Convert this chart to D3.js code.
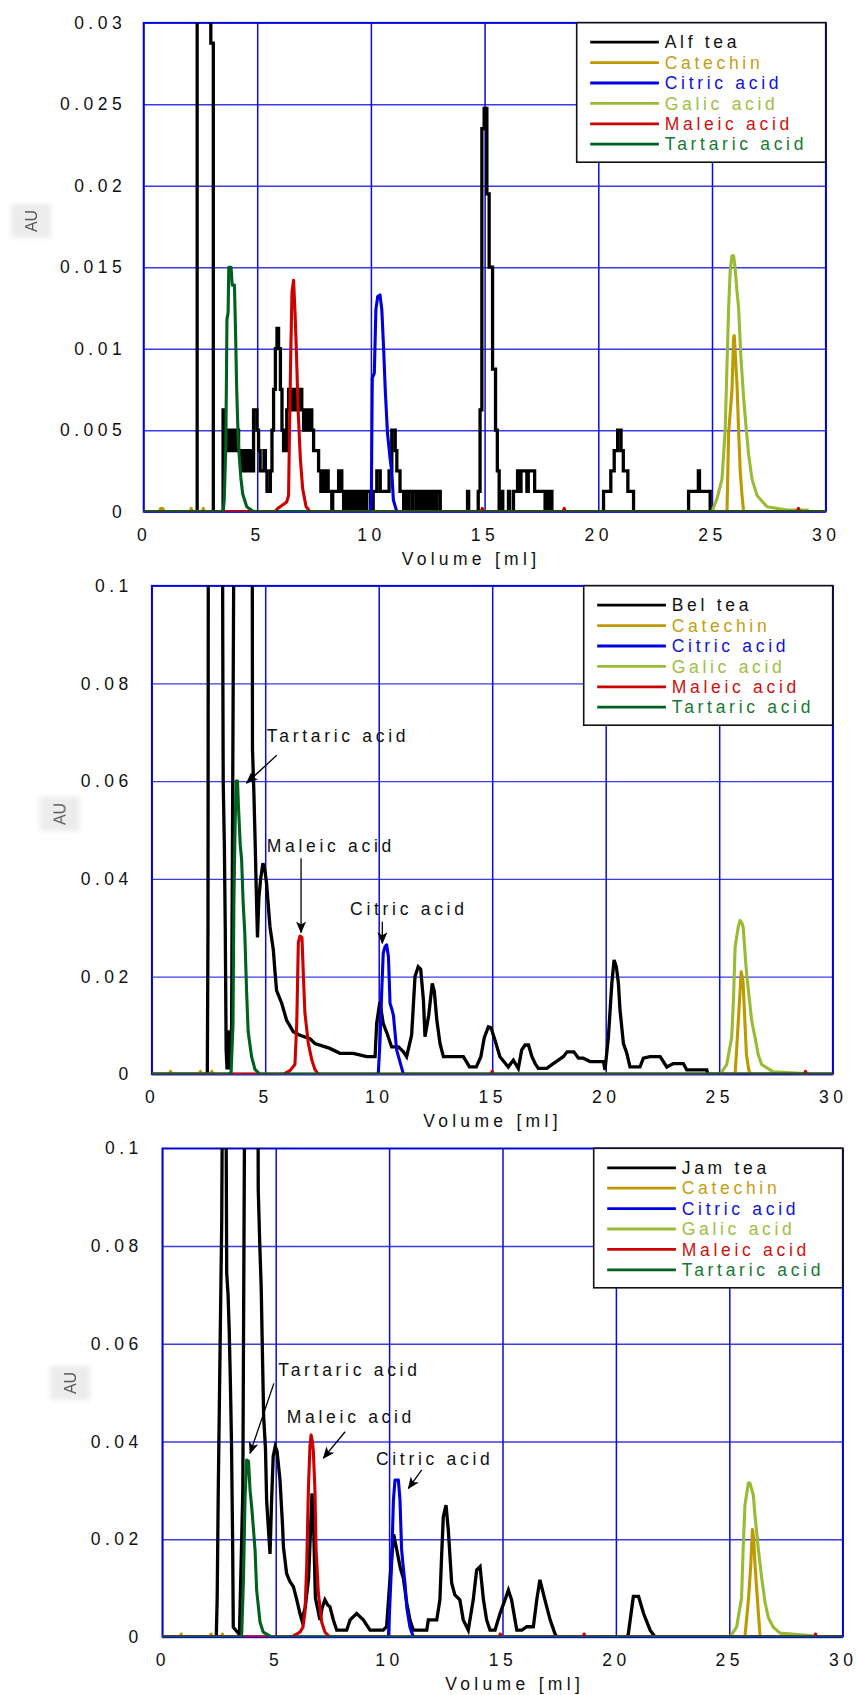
<!DOCTYPE html>
<html>
<head>
<meta charset="utf-8">
<script src="https://cdn.jsdelivr.net/npm/d3@7"></script>
<style>
  body { margin: 0; background: #fff; }
  svg text { font-family: "Liberation Sans", Arial, sans-serif; }
</style>
</head>
<body>
<svg id="chart" width="856" height="1695"></svg>
<script>
// ---------- shared axis values ----------
const volumeTicks = [0, 5, 10, 15, 20, 25, 30];
const auTicksAlf = [0, 0.005, 0.01, 0.015, 0.02, 0.025, 0.03];
const auTicksBel = [0, 0.02, 0.04, 0.06, 0.08, 0.1];
const auTicksJam = [0, 0.02, 0.04, 0.06, 0.08, 0.1];
const standardNames = ["Catechin", "Citric acid", "Galic acid", "Maleic acid", "Tartaric acid"];
const teaNames = ["Alf tea", "Bel tea", "Jam tea"];

// ---------- Alf tea run: [volume ml, AU] ----------
const alfTea = [[0,0],[2.36,0.05],[2.96,0.02875],[3.07,0],[3.5,0.00625],[3.58,0.005],[3.64,0.00375],[3.7,0.005],[3.76,0.00375],[3.82,0.005],[3.9,0.00375],[3.96,0.005],[4.04,0.00375],[4.1,0.005],[4.18,0.00375],[4.3,0.0025],[4.4,0.00375],[4.5,0.0025],[4.6,0.00375],[4.7,0.0025],[4.84,0.00625],[4.99,0.005],[5.06,0.00375],[5.13,0.0025],[5.3,0.00375],[5.36,0.0025],[5.43,0.00125],[5.58,0.0025],[5.65,0.005],[5.72,0.0075],[5.8,0.01],[5.87,0.01125],[5.94,0.01],[6.02,0.0075],[6.09,0.005],[6.16,0.00375],[6.3,0.00625],[6.38,0.0075],[6.45,0.00625],[6.52,0.0075],[6.6,0.00625],[6.68,0.0075],[6.8,0.00625],[6.88,0.0075],[6.96,0.00625],[7.04,0.005],[7.12,0.00625],[7.2,0.005],[7.3,0.00625],[7.4,0.005],[7.48,0.00375],[7.7,0.0025],[7.8,0.00125],[7.88,0.0025],[7.96,0.00125],[8.04,0.0025],[8.12,0.00125],[8.28,0],[8.32,0.00125],[8.58,0.0025],[8.72,0.00125],[8.8,0],[8.86,0.00125],[9.0,0],[9.05,0.00125],[9.15,0],[9.2,0.00125],[9.3,0],[9.35,0.00125],[9.45,0],[9.5,0.00125],[9.6,0],[9.65,0.00125],[9.75,0],[9.8,0.00125],[9.97,0],[10.1,0.00125],[10.26,0.0025],[10.41,0.00125],[10.8,0.0025],[10.92,0.005],[11.07,0.00375],[11.14,0.0025],[11.28,0.00125],[11.44,0],[11.5,0.00125],[11.6,0],[11.65,0.00125],[11.8,0],[11.85,0.00125],[12.0,0],[12.1,0.00125],[12.2,0],[12.3,0.00125],[12.4,0],[12.5,0.00125],[12.6,0],[12.7,0.00125],[12.8,0],[12.9,0.00125],[13.05,0],[14.25,0.00125],[14.3,0],[14.72,0.00125],[14.8,0.00625],[14.88,0.0235],[14.98,0.02475],[15.1,0.0195],[15.2,0.015],[15.35,0.00875],[15.48,0.005],[15.56,0.0025],[15.64,0],[15.76,0.00125],[15.8,0],[16.05,0.00125],[16.1,0],[16.27,0.00125],[16.45,0.0025],[16.55,0.00125],[16.6,0.0025],[16.86,0.00125],[16.92,0.0025],[17.2,0.00125],[17.66,0],[17.7,0.00125],[17.8,0],[17.85,0.00125],[17.96,0],[20.23,0.00125],[20.55,0.0025],[20.7,0.00375],[20.85,0.005],[21.0,0.00375],[21.1,0.0025],[21.3,0.00125],[21.55,0],[23.97,0.00125],[24.4,0.0025],[24.45,0.00125],[24.92,0],[30,0]];
const alfCatechin = [[0,0],[0.7,0],[0.75,0.0002],[0.85,0.0002],[0.9,0],[2.05,0],[2.1,0.0002],[2.15,0],[2.58,0],[2.63,0.0002],[2.68,0],[25.66,0],[25.73,0.0048],[25.88,0.0075],[25.95,0.0107],[25.98,0.0108],[26.05,0.009],[26.1,0.0078],[26.17,0.005],[26.24,0.0025],[26.32,0.001],[26.39,0],[30,0]];
const alfCitric = [[0,0],[9.97,0],[10.02,0.0008],[10.06,0.0082],[10.15,0.0085],[10.22,0.0124],[10.3,0.0132],[10.4,0.0133],[10.48,0.0124],[10.56,0.01],[10.63,0.0075],[10.73,0.0048],[10.85,0.0032],[10.92,0.0024],[10.99,0.0007],[11.14,0],[30,0]];
const alfGalic = [[0,0],[25.0,0],[25.22,0.0008],[25.44,0.002],[25.58,0.005],[25.66,0.009],[25.73,0.0125],[25.8,0.0148],[25.88,0.0157],[25.95,0.0157],[26.02,0.0149],[26.1,0.0135],[26.17,0.0125],[26.27,0.0095],[26.39,0.007],[26.51,0.005],[26.61,0.0035],[26.76,0.002],[26.98,0.001],[27.42,0.0003],[28.3,0.0001],[29.25,0.0001]];
const alfMaleic = [[0,0],[5.79,0],[5.9,0.0002],[6.1,0.0004],[6.3,0.0006],[6.38,0.001],[6.42,0.005],[6.48,0.01],[6.53,0.0135],[6.6,0.0142],[6.67,0.012],[6.72,0.01],[6.8,0.0062],[6.9,0.0032],[7.0,0.0014],[7.15,0.0003],[7.33,0],[14.85,0],[14.9,0.0002],[14.95,0],[18.45,0],[18.5,0.0002],[18.55,0],[28.75,0],[28.8,0.0002],[28.85,0],[30,0]];
const alfTartaric = [[0,0],[3.5,0],[3.55,0.0007],[3.62,0.004],[3.67,0.0118],[3.72,0.0122],[3.75,0.015],[3.85,0.015],[3.9,0.0139],[4.0,0.0139],[4.05,0.0109],[4.1,0.0074],[4.17,0.0042],[4.28,0.0021],[4.36,0.0011],[4.54,0.0003],[4.84,0],[30,0]];

// ---------- Bel tea run ----------
const belTea = [[0,0],[2.45,0],[2.48,0.03],[2.5,0.15],[3.1,0.15],[3.13,0.09],[3.15,0.06],[3.2,0.047],[3.24,0.03],[3.28,0.005],[3.32,0.001],[3.36,0.009],[3.4,0.002],[3.45,0.001],[3.52,0.01],[3.56,0.05],[3.6,0.09],[3.66,0.15],[4.42,0.15],[4.44,0.0665],[4.5,0.0578],[4.56,0.047],[4.62,0.035],[4.66,0.028],[4.72,0.036],[4.8,0.04],[4.9,0.0432],[4.98,0.042],[5.06,0.0391],[5.21,0.0302],[5.36,0.0254],[5.43,0.021],[5.5,0.0172],[5.73,0.0145],[5.94,0.0111],[6.24,0.0087],[6.53,0.008],[6.97,0.0073],[7.19,0.0063],[7.85,0.0053],[8.29,0.0043],[8.88,0.0043],[9.47,0.0036],[9.84,0.0036],[9.91,0.0104],[10.05,0.0148],[10.2,0.0104],[10.35,0.0086],[10.57,0.0056],[10.87,0.0056],[11.09,0.0046],[11.23,0.0036],[11.45,0.008],[11.6,0.02],[11.74,0.022],[11.85,0.0215],[11.97,0.0152],[12.04,0.0077],[12.2,0.012],[12.36,0.0186],[12.45,0.017],[12.56,0.0111],[12.7,0.0063],[12.85,0.0036],[13.3,0.0036],[13.73,0.0036],[14.0,0.0015],[14.3,0.0015],[14.5,0.0036],[14.65,0.0075],[14.83,0.0097],[14.95,0.0095],[15.12,0.007],[15.34,0.0036],[15.71,0.0015],[15.93,0.0029],[16.15,0.0012],[16.3,0.005],[16.45,0.006],[16.6,0.006],[16.75,0.0036],[16.89,0.0022],[17.03,0.0012],[17.4,0.0012],[17.69,0.0022],[18.13,0.0036],[18.3,0.0046],[18.6,0.0046],[18.8,0.0033],[19.01,0.0033],[19.31,0.0026],[19.9,0.0026],[19.97,0.0009],[20.12,0.0077],[20.27,0.0186],[20.37,0.0234],[20.47,0.022],[20.56,0.0186],[20.63,0.0132],[20.78,0.0063],[20.93,0.0043],[21.07,0.0015],[21.51,0.0015],[21.66,0.0033],[21.95,0.0036],[22.4,0.0036],[22.69,0.0015],[22.98,0.0022],[23.42,0.0022],[23.57,0.0009],[24.45,0.0009],[24.5,0],[30,0]];
const belCatechin = [[0,0],[0.78,0],[0.83,0.0006],[0.88,0],[2.1,0],[2.15,0.0006],[2.2,0],[2.6,0],[2.65,0.0006],[2.7,0],[25.7,0],[25.78,0.006],[25.88,0.014],[25.97,0.021],[26.05,0.019],[26.12,0.012],[26.2,0.004],[26.3,0.001],[26.38,0],[30,0]];
const belCitric = [[0,0],[9.98,0],[10.06,0.007],[10.13,0.0166],[10.2,0.0248],[10.28,0.0261],[10.35,0.0265],[10.43,0.024],[10.5,0.0145],[10.6,0.013],[10.65,0.012],[10.79,0.005],[10.94,0.0025],[11.09,0],[30,0]];
const belGalic = [[0,0],[25.04,0],[25.33,0.002],[25.55,0.0075],[25.63,0.0155],[25.7,0.026],[25.84,0.0302],[25.92,0.0315],[26.0,0.031],[26.06,0.03],[26.15,0.024],[26.21,0.0205],[26.28,0.0175],[26.43,0.011],[26.58,0.0075],[26.72,0.004],[26.87,0.002],[27.38,0.0005],[28.56,0.0002],[28.9,0]];
const belMaleic = [[0,0],[5.8,0],[6.1,0.0008],[6.31,0.002],[6.39,0.0104],[6.46,0.027],[6.53,0.0283],[6.62,0.028],[6.68,0.0204],[6.75,0.0125],[6.9,0.0063],[7.05,0.003],[7.19,0.001],[7.34,0],[14.95,0],[15.0,0.0006],[15.05,0],[28.75,0],[28.8,0.0006],[28.85,0],[30,0]];
const belTartaric = [[0,0],[3.4,0],[3.5,0.0005],[3.58,0.01],[3.62,0.035],[3.67,0.05],[3.72,0.06],[3.78,0.06],[3.82,0.055],[3.9,0.047],[3.96,0.044],[4.03,0.035],[4.1,0.029],[4.18,0.017],[4.25,0.0087],[4.4,0.0036],[4.55,0.001],[4.77,0],[30,0]];

// ---------- Jam tea run ----------
const jamTea = [[0,0],[2.38,0],[2.42,0.008],[2.47,0.031],[2.55,0.06],[2.62,0.085],[2.66,0.12],[2.8,0.12],[2.84,0.0744],[2.9,0.07],[2.95,0.0628],[3.0,0.0526],[3.05,0.04],[3.1,0.02],[3.13,0.002],[3.4,0.0005],[3.5,0.02],[3.55,0.03],[3.62,0.1],[3.66,0.15],[4.2,0.15],[4.23,0.0915],[4.3,0.08],[4.36,0.0717],[4.42,0.0567],[4.47,0.045],[4.55,0.0385],[4.6,0.028],[4.68,0.022],[4.75,0.017],[4.82,0.028],[4.89,0.037],[4.98,0.039],[5.06,0.038],[5.19,0.0321],[5.3,0.023],[5.34,0.0185],[5.48,0.013],[5.63,0.0113],[5.78,0.0103],[5.93,0.0076],[6.07,0.0048],[6.15,0.0035],[6.3,0.006],[6.45,0.012],[6.6,0.0294],[6.66,0.025],[6.75,0.008],[6.95,0.0035],[7.05,0.006],[7.17,0.0076],[7.3,0.0065],[7.39,0.0062],[7.54,0.0035],[7.69,0.0014],[8.13,0.0014],[8.28,0.0035],[8.57,0.0048],[8.86,0.0035],[9.16,0.0014],[9.74,0.0014],[9.89,0.0021],[10.04,0.012],[10.2,0.021],[10.33,0.018],[10.5,0.014],[10.63,0.012],[10.78,0.0069],[10.92,0.0035],[11.07,0.0014],[11.66,0.0014],[11.73,0.0035],[12.1,0.0035],[12.24,0.0076],[12.32,0.0171],[12.39,0.0246],[12.51,0.027],[12.61,0.0219],[12.76,0.011],[12.9,0.0086],[13.12,0.0076],[13.27,0.0035],[13.49,0.0014],[13.71,0.0076],[13.86,0.0137],[14.01,0.0144],[14.16,0.0076],[14.3,0.0035],[14.45,0.0014],[14.67,0.0014],[14.89,0.0048],[15.11,0.0076],[15.26,0.0096],[15.4,0.0076],[15.63,0.0014],[15.85,0.0014],[16.07,0.0021],[16.36,0.0021],[16.51,0.0076],[16.65,0.0117],[16.87,0.0076],[17.1,0.0035],[17.31,0.0007],[17.39,0],[20.5,0],[20.55,0.0007],[20.77,0.0083],[21.0,0.0083],[21.22,0.0048],[21.51,0.0014],[21.73,0],[30,0]];
const jamCatechin = [[0,0],[0.78,0],[0.83,0.0006],[0.88,0],[2.1,0],[2.15,0.0006],[2.2,0],[2.6,0],[2.65,0.0006],[2.7,0],[25.69,0],[25.85,0.008],[25.95,0.015],[26.02,0.022],[26.08,0.02],[26.13,0.015],[26.28,0.005],[26.36,0],[30,0]];
const jamCitric = [[0,0],[9.97,0],[10.11,0.015],[10.19,0.028],[10.26,0.0321],[10.41,0.0321],[10.48,0.028],[10.55,0.018],[10.63,0.014],[10.7,0.011],[10.78,0.006],[10.92,0.002],[11.07,0],[30,0]];
const jamGalic = [[0,0],[25.03,0],[25.32,0.002],[25.54,0.008],[25.61,0.018],[25.69,0.027],[25.84,0.0315],[25.91,0.0315],[26.06,0.029],[26.13,0.025],[26.28,0.018],[26.43,0.012],[26.58,0.007],[26.72,0.004],[26.94,0.002],[27.24,0.0008],[28.56,0.0003],[28.9,0]];
const jamMaleic = [[0,0],[5.7,0],[6.07,0.001],[6.2,0.002],[6.29,0.005],[6.37,0.015],[6.44,0.03],[6.51,0.039],[6.56,0.0413],[6.62,0.04],[6.66,0.038],[6.73,0.03],[6.78,0.018],[6.88,0.009],[7.03,0.003],[7.17,0.001],[7.39,0],[14.85,0],[14.9,0.0006],[14.95,0],[18.55,0],[18.6,0.0006],[18.65,0],[28.75,0],[28.8,0.0006],[28.85,0],[30,0]];
const jamTartaric = [[0,0],[3.45,0],[3.5,0.0005],[3.58,0.012],[3.65,0.0287],[3.72,0.0362],[3.8,0.036],[3.87,0.03],[3.94,0.0267],[4.02,0.022],[4.09,0.0178],[4.16,0.0096],[4.31,0.003],[4.45,0.001],[4.82,0],[30,0]];

// ---------- styling ----------
const teaColor = "#000000";
const standardColors = ["#bf9900", "#0000dd", "#99bb33", "#cc0000", "#00601e"];
const standardTextColors = ["#c49e10", "#1010e0", "#9cc040", "#d01010", "#157a30"];
const labelFont = 17.5;
const tickSpacing = 4.5;
const legendSpacing = 3.7;

// panel layout (pixel frames) and labelled peaks (in data units)
const panels = [
  { name: teaNames[0], tea: alfTea, step: true,
    standards: [alfCatechin, alfCitric, alfGalic, alfMaleic, alfTartaric],
    ticks: auTicksAlf, yMax: 0.03,
    left: 143.5, right: 825.7, top: 22.7, bottom: 511.7,
    tickPad: 17.3, xLabelX: 471, au: [31, 221], notes: [] },
  { name: teaNames[1], tea: belTea, step: false,
    standards: [belCatechin, belCitric, belGalic, belMaleic, belTartaric],
    ticks: auTicksBel, yMax: 0.1,
    left: 151.7, right: 832.7, top: 585.7, bottom: 1074.3,
    tickPad: 18.9, xLabelX: 492.5, au: [59.5, 814],
    notes: [
      { text: "Tartaric acid", at: [5.07, 0.0693], from: [5.51, 0.0653], to: [4.18, 0.0596] },
      { text: "Maleic acid",   at: [5.07, 0.0468], from: [6.58, 0.0442], to: [6.58, 0.0290] },
      { text: "Citric acid",   at: [8.74, 0.0338], from: [10.16, 0.0312], to: [10.16, 0.0268] }
    ] },
  { name: teaNames[2], tea: jamTea, step: false,
    standards: [jamCatechin, jamCitric, jamGalic, jamMaleic, jamTartaric],
    ticks: auTicksJam, yMax: 0.1,
    left: 162.3, right: 842.7, top: 1148.3, bottom: 1637,
    tickPad: 19.5, xLabelX: 514.7, au: [70, 1383],
    notes: [
      { text: "Tartaric acid", at: [5.11, 0.0546], from: [4.92, 0.0519], to: [3.87, 0.0376] },
      { text: "Maleic acid",   at: [5.49, 0.0451], from: [8.06, 0.0420], to: [7.10, 0.0366] },
      { text: "Citric acid",   at: [9.42, 0.0364], from: [11.44, 0.0342], to: [10.85, 0.0304] }
    ] }
];

const svg = d3.select("#chart");
const defs = svg.append("defs");
defs.append("marker")
  .attr("id", "arrowHead")
  .attr("viewBox", "0 0 12 10")
  .attr("refX", 11).attr("refY", 5)
  .attr("markerWidth", 12).attr("markerHeight", 10)
  .attr("markerUnits", "userSpaceOnUse")
  .attr("orient", "auto")
  .append("path")
  .attr("d", "M0,0 L12,5 L0,10 L3,5 Z")
  .attr("fill", "#000");
defs.append("filter").attr("id", "softText")
  .append("feGaussianBlur").attr("stdDeviation", 0.55);
defs.append("filter").attr("id", "softBox")
  .attr("x", "-30%").attr("y", "-30%").attr("width", "160%").attr("height", "160%")
  .append("feGaussianBlur").attr("stdDeviation", 2.5);

// draw order for the standards: galic under catechin, the rest on top
const drawOrder = [2, 0, 1, 3, 4];

panels.forEach((p, pi) => {
  const w = p.right - p.left, h = p.bottom - p.top;
  const x = d3.scaleLinear().domain([0, 30]).range([p.left, p.right]);
  const y = d3.scaleLinear().domain([0, p.yMax]).range([p.bottom, p.top]);
  const g = svg.append("g").attr("class", "panel");

  // horizontal grid + AU tick labels
  const yAxis = g.append("g")
    .attr("transform", `translate(${p.left},0)`)
    .call(d3.axisLeft(y).tickValues(p.ticks).tickSize(-w).tickPadding(p.tickPad)
      .tickFormat(d => d === 0 ? "0" : String(d)));
  yAxis.select(".domain").remove();
  yAxis.selectAll(".tick line").attr("stroke", "#3a3ae6").attr("stroke-width", 1.4);
  yAxis.selectAll(".tick text")
    .attr("fill", "#111").style("font-size", labelFont + "px")
    .style("letter-spacing", tickSpacing + "px");

  // vertical grid + volume tick labels
  const xAxis = g.append("g")
    .attr("transform", `translate(0,${p.bottom})`)
    .call(d3.axisBottom(x).tickValues(volumeTicks).tickSize(-h).tickPadding(0));
  xAxis.select(".domain").remove();
  xAxis.selectAll(".tick line").attr("stroke", "#0a0adc").attr("stroke-width", 1.5);
  xAxis.selectAll(".tick text")
    .attr("y", 23).attr("dy", "0.35em")
    .attr("fill", "#111").style("font-size", labelFont + "px")
    .style("letter-spacing", tickSpacing + "px");

  // plot frame
  g.append("rect")
    .attr("x", p.left).attr("y", p.top).attr("width", w).attr("height", h)
    .attr("fill", "none").attr("stroke", "#0000dd").attr("stroke-width", 1.6);

  // axis titles
  g.append("text")
    .attr("x", p.xLabelX).attr("y", p.bottom + 47).attr("dy", "0.35em")
    .attr("text-anchor", "middle").attr("fill", "#111")
    .style("font-size", labelFont + "px").style("letter-spacing", "4.3px")
    .text("Volume [ml]");
  const au = g.append("g").attr("transform", `translate(${p.au[0]},${p.au[1]})`);
  au.append("rect").attr("x", -20).attr("y", -17).attr("width", 40).attr("height", 34)
    .attr("fill", "#ececec").attr("filter", "url(#softBox)");
  au.append("text").attr("transform", "rotate(-90)")
    .attr("text-anchor", "middle").attr("dy", "0.36em")
    .attr("fill", "#5a5a5a").style("font-size", "16px").attr("filter", "url(#softText)")
    .text("AU");

  // traces, clipped to the plot area
  const clipId = "clip" + pi;
  defs.append("clipPath").attr("id", clipId)
    .append("rect").attr("x", p.left).attr("y", p.top).attr("width", w).attr("height", h);
  const plot = g.append("g").attr("clip-path", `url(#${clipId})`);
  const line = d3.line().x(d => x(d[0])).y(d => y(d[1]));
  plot.append("path")
    .datum(p.tea)
    .attr("d", line.curve(p.step ? d3.curveStepAfter : d3.curveLinear))
    .attr("fill", "none").attr("stroke", teaColor).attr("stroke-width", 3.3)
    .attr("stroke-linejoin", "miter");
  line.curve(d3.curveLinear);
  drawOrder.forEach(k => {
    plot.append("path")
      .datum(p.standards[k])
      .attr("d", line)
      .attr("fill", "none").attr("stroke", standardColors[k]).attr("stroke-width", 3.1)
      .attr("stroke-linejoin", "round");
  });

  // legend, anchored to the top-right corner of the frame
  const lw = 249, lh = 139.5;
  const lg = g.append("g").attr("transform", `translate(${p.right - lw},${p.top})`);
  lg.append("rect").attr("width", lw).attr("height", lh)
    .attr("fill", "#fff").attr("stroke", "#111").attr("stroke-width", 1.6);
  const entries = [{ name: p.name, color: teaColor, text: "#111" }]
    .concat(standardNames.map((n, k) => ({ name: n, color: standardColors[k], text: standardTextColors[k] })));
  entries.forEach((e, k) => {
    const ry = 19.5 + k * 20.4;
    lg.append("line").attr("x1", 13.5).attr("x2", 82.2).attr("y1", ry).attr("y2", ry)
      .attr("stroke", e.color).attr("stroke-width", 2.8);
    lg.append("text").attr("x", 88).attr("y", ry).attr("dy", "0.36em")
      .attr("fill", e.text).style("font-size", labelFont + "px")
      .style("letter-spacing", legendSpacing + "px")
      .text(e.name);
  });

  // labelled peaks
  p.notes.forEach(n => {
    g.append("line")
      .attr("x1", x(n.from[0])).attr("y1", y(n.from[1]))
      .attr("x2", x(n.to[0])).attr("y2", y(n.to[1]))
      .attr("stroke", "#000").attr("stroke-width", 1.3)
      .attr("marker-end", "url(#arrowHead)");
    g.append("text")
      .attr("x", x(n.at[0])).attr("y", y(n.at[1])).attr("dy", "0.36em")
      .attr("fill", "#111").style("font-size", labelFont + "px")
      .style("letter-spacing", legendSpacing + "px")
      .text(n.text);
  });
});
</script>
</body>
</html>
